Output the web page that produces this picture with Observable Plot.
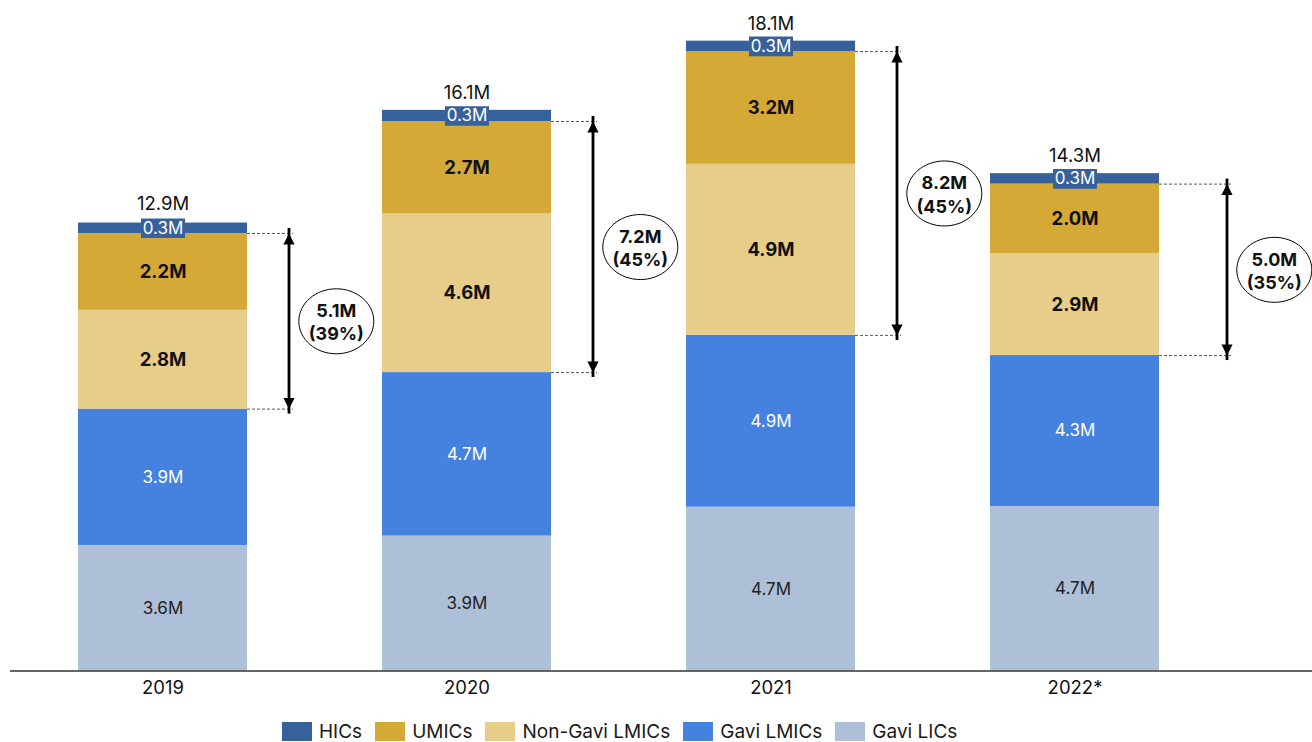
<!DOCTYPE html>
<html>
<head>
<meta charset="utf-8">
<script src="https://cdn.jsdelivr.net/npm/d3@7"></script>
<script src="https://cdn.jsdelivr.net/npm/@observablehq/plot@0.6"></script>
<style>
  body { margin: 0; background: #fff; font-family: Inter, "Noto Sans", sans-serif; }
  #chart { position: relative; width: 1312px; height: 742px; overflow: hidden; }
  #chart svg { display: block; }
  #legend { position: absolute; left: 282px; top: 721px; height: 20px; display: flex; align-items: center;
            font-size: 19px; color: #1a1a1a; line-height: 19px; font-family: Inter, sans-serif; }
  .item { display: flex; align-items: center; margin-right: 13px; }
  .sw { width: 30px; height: 19px; margin-right: 7px; }
</style>
</head>
<body>
<div id="chart"></div>
<script>
// ---------- data ----------
const years = ["2019", "2020", "2021", "2022*"];
const hics         = [0.30, 0.32, 0.30, 0.30];
const umics        = [2.21, 2.66, 3.24, 2.00];
const nonGaviLmics = [2.84, 4.56, 4.92, 2.93];
const gaviLmics    = [3.92, 4.70, 4.94, 4.34];
const gaviLics     = [3.61, 3.88, 4.71, 4.73];
const totals       = [12.9, 16.1, 18.1, 14.3];
const gapValue     = [5.1, 7.2, 8.2, 5.0];   // Non-Gavi LMICs + UMICs
const gapShare     = [39, 45, 45, 35];       // share of total, %

const seriesNames  = ["HICs", "UMICs", "Non-Gavi LMICs", "Gavi LMICs", "Gavi LICs"];
const seriesColors = ["#37619a", "#d4a936", "#e6cd89", "#4581de", "#aebfd8"];
const stackOrder   = ["Gavi LICs", "Gavi LMICs", "Non-Gavi LMICs", "UMICs", "HICs"];

// ---------- derived tables ----------
const seriesValues = {
  "HICs": hics, "UMICs": umics, "Non-Gavi LMICs": nonGaviLmics,
  "Gavi LMICs": gaviLmics, "Gavi LICs": gaviLics
};
const rows = stackOrder.flatMap(s => years.map((y, i) => ({year: y, series: s, value: seriesValues[s][i]})));
const gaps = years.map((y, i) => {
  const lo = gaviLics[i] + gaviLmics[i];
  return {year: y, lo, hi: lo + nonGaviLmics[i] + umics[i],
          label: `${gapValue[i].toFixed(1)}M\n(${gapShare[i]}%)`};
});
const totalRows = years.map((y, i) => ({year: y, total: totals[i]}));

// ---------- layout constants ----------
const BW = 169;                 // bar width in px (band)
const fmt = v => v.toFixed(1) + "M";
const triUp   = {draw(c) { c.moveTo(0, 0); c.lineTo(5.6, 11); c.lineTo(-5.6, 11); c.closePath(); }};
const triDown = {draw(c) { c.moveTo(0, 0); c.lineTo(5.6, -11); c.lineTo(-5.6, -11); c.closePath(); }};
const ellipse = {draw(c) {
  const rx = 37.5, ry = 32.5, k = 0.5523;
  c.moveTo(rx, 0);
  c.bezierCurveTo(rx, ry * k, rx * k, ry, 0, ry);
  c.bezierCurveTo(-rx * k, ry, -rx, ry * k, -rx, 0);
  c.bezierCurveTo(-rx, -ry * k, -rx * k, -ry, 0, -ry);
  c.bezierCurveTo(rx * k, -ry, rx, -ry * k, rx, 0);
  c.closePath();
}};
const hicBox = {draw(c) { c.rect(-22, -9.8, 44, 19.6); }};

const stackOpts = {x: "year", y: "value", z: "series", order: stackOrder};

const annotationMarks = gaps.flatMap(g => {
  const dx = g.year === "2022*" ? 152 : 126;     // arrow offset from band centre
  const ext = dx - BW / 2 + 4.5;                  // dashed guide length beyond bar
  return [
    Plot.tickY([g], {x: "year", y: "lo", insetLeft: BW, insetRight: -ext, stroke: "#555", strokeWidth: 1, strokeDasharray: "3,2"}),
    Plot.tickY([g], {x: "year", y: "hi", insetLeft: BW, insetRight: -ext, stroke: "#555", strokeWidth: 1, strokeDasharray: "3,2"}),
    Plot.ruleX([g], {x: "year", y1: "lo", y2: "hi", dx, stroke: "#000", strokeWidth: 2.8, insetTop: 5, insetBottom: 5}),
    Plot.dot([g], {x: "year", y: "hi", dx, symbol: triUp, fill: "#000", stroke: "none"}),
    Plot.dot([g], {x: "year", y: "lo", dx, symbol: triDown, fill: "#000", stroke: "none"}),
    Plot.dot([g], {x: "year", y: d => (d.lo + d.hi) / 2, dx: dx + 47.3, symbol: ellipse, fill: "#fff", stroke: "#000", strokeWidth: 1}),
    Plot.text([g], {x: "year", y: d => (d.lo + d.hi) / 2, dx: dx + 47.3, text: "label", fontWeight: "bold", fontSize: 18, lineHeight: 1.3, fill: "#111"})
  ];
});

const chart = Plot.plot({
  width: 1312,
  height: 720,
  marginLeft: 10,
  marginRight: 0,
  marginTop: 41,
  marginBottom: 49.5,
  style: {fontFamily: "Inter, sans-serif", background: "#fff", overflow: "visible"},
  x: {domain: years, paddingInner: 0.4453, paddingOuter: 0.3594, align: 0.306, axis: null},
  y: {domain: [0, 18.1], axis: null},
  color: {domain: seriesNames, range: seriesColors},
  marks: [
    Plot.barY(rows, Plot.stackY({...stackOpts, fill: "series"})),
    // HIC label background box
    Plot.dot(rows, Plot.filter(d => d.series === "HICs", Plot.stackY({...stackOpts, symbol: hicBox, fill: seriesColors[0], stroke: "none"}))),
    Plot.text(rows, Plot.filter(d => d.series === "HICs", Plot.stackY({...stackOpts, text: d => fmt(d.value), fill: "#fff", fontSize: 17}))),
    Plot.text(rows, Plot.filter(d => d.series === "UMICs" || d.series === "Non-Gavi LMICs",
      Plot.stackY({...stackOpts, text: d => fmt(d.value), fill: "#111", fontWeight: "bold", fontSize: 18.5}))),
    Plot.text(rows, Plot.filter(d => d.series === "Gavi LMICs",
      Plot.stackY({...stackOpts, text: d => fmt(d.value), fill: "#fff", fontSize: 17}))),
    Plot.text(rows, Plot.filter(d => d.series === "Gavi LICs",
      Plot.stackY({...stackOpts, text: d => fmt(d.value), fill: "#222", fontSize: 17}))),
    ...annotationMarks,
    Plot.text(totalRows, {x: "year", y: "total", text: d => fmt(d.total), dy: -17.8, fontSize: 18.5, fill: "#111"}),
    Plot.text(years, {x: d => d, y: () => 0, text: d => d, dy: 17.5, fontSize: 18.5, fill: "#111"}),
    Plot.ruleY([0], {stroke: "#333", strokeWidth: 1.6})
  ]
});

const root = document.getElementById("chart");
root.appendChild(chart);

const legend = document.createElement("div");
legend.id = "legend";
seriesNames.forEach((s, i) => {
  const item = document.createElement("div");
  item.className = "item";
  const sw = document.createElement("span");
  sw.className = "sw";
  sw.style.background = seriesColors[i];
  const t = document.createElement("span");
  t.textContent = s;
  item.appendChild(sw);
  item.appendChild(t);
  legend.appendChild(item);
});
root.appendChild(legend);
</script>
</body>
</html>
